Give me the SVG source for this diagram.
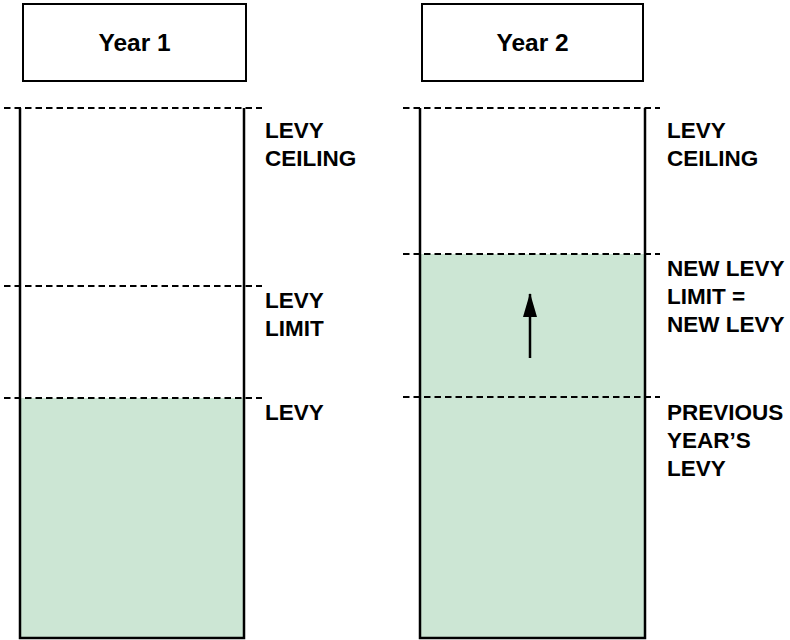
<svg xmlns="http://www.w3.org/2000/svg" width="790" height="640" viewBox="0 0 790 640">
<defs>
<style>
.box{fill:#fff;stroke:#000;stroke-width:2}
.title{font-family:"Liberation Sans",Arial,sans-serif;font-weight:bold;font-size:24.5px;fill:#000;text-anchor:middle}
.lbl{font-family:"Liberation Sans",Arial,sans-serif;font-weight:bold;font-size:22.5px;fill:#000}
.fill{fill:#cce6d4}
.col{stroke:#000;stroke-width:2.5;fill:none}
.dash{stroke:#000;stroke-width:2;stroke-dasharray:6.5 4;fill:none}
</style>
<marker id="ah" viewBox="0 0 24 14" markerWidth="24" markerHeight="14" refX="23" refY="7" orient="auto" markerUnits="userSpaceOnUse">
<path d="M0,0 L24,7 L0,14 z" fill="#000"/>
</marker>
</defs>
<g id="year1">
<rect class="box" x="23" y="4" width="223" height="77"/>
<text class="title" x="134.5" y="51">Year 1</text>
</g>
<g id="year2">
<rect class="box" x="422" y="4" width="221" height="77"/>
<text class="title" x="532.5" y="51">Year 2</text>
</g>
<g id="column1">
<rect class="fill" x="20" y="398" width="224" height="240"/>
<path class="col" d="M20,108 V638 H244 V108"/>
</g>
<g id="column2">
<rect class="fill" x="420" y="254" width="225" height="384"/>
<path class="col" d="M420,108 V638 H645 V108"/>
</g>
<g id="levels">
<line class="dash" x1="4" y1="108" x2="262" y2="108"/>
<line class="dash" x1="4" y1="286" x2="262" y2="286"/>
<line class="dash" x1="4" y1="398" x2="262" y2="398"/>
<line class="dash" x1="403" y1="108" x2="660" y2="108"/>
<line class="dash" x1="403" y1="254" x2="660" y2="254"/>
<line class="dash" x1="403" y1="397" x2="660" y2="397"/>
</g>
<g id="connectors">
<line x1="530" y1="358" x2="530" y2="294" stroke="#000" stroke-width="2.5" marker-end="url(#ah)"/>
</g>
<g id="labels1">
<text class="lbl" x="265" y="138">LEVY</text>
<text class="lbl" x="265" y="166">CEILING</text>
<text class="lbl" x="265" y="308">LEVY</text>
<text class="lbl" x="265" y="336">LIMIT</text>
<text class="lbl" x="265" y="420">LEVY</text>
</g>
<g id="labels2">
<text class="lbl" x="667" y="138">LEVY</text>
<text class="lbl" x="667" y="166">CEILING</text>
<text class="lbl" x="667" y="276">NEW LEVY</text>
<text class="lbl" x="667" y="304">LIMIT =</text>
<text class="lbl" x="667" y="332">NEW LEVY</text>
<text class="lbl" x="667" y="420">PREVIOUS</text>
<text class="lbl" x="667" y="448">YEAR’S</text>
<text class="lbl" x="667" y="476">LEVY</text>
</g>
</svg>
